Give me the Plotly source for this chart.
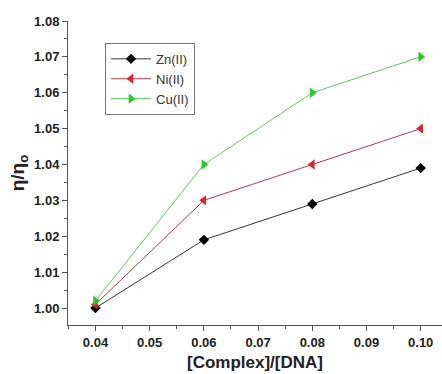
import plotly.graph_objects as go

ratio = [0.04, 0.06, 0.08, 0.10]
zn = [1.000, 1.019, 1.029, 1.039]
ni = [1.001, 1.030, 1.040, 1.050]
cu = [1.002, 1.040, 1.060, 1.070]
x_ticks = [0.04, 0.05, 0.06, 0.07, 0.08, 0.09, 0.10]
x_tick_text = ["0.04", "0.05", "0.06", "0.07", "0.08", "0.09", "0.10"]
y_ticks = [1.00, 1.01, 1.02, 1.03, 1.04, 1.05, 1.06, 1.07, 1.08]
y_tick_text = ["1.00", "1.01", "1.02", "1.03", "1.04", "1.05", "1.06", "1.07", "1.08"]

FONT = "Liberation Sans, Arial, sans-serif"

fig = go.Figure()
fig.add_trace(go.Scatter(x=ratio, y=zn, name="Zn(II)", mode="lines+markers",
                         line=dict(color="#333333", width=1),
                         marker=dict(symbol="diamond", size=8, color="black")))
fig.add_trace(go.Scatter(x=ratio, y=ni, name="Ni(II)", mode="lines+markers",
                         line=dict(color="#9a4450", width=1),
                         marker=dict(symbol="triangle-left", size=9, color="#e3212b")))
fig.add_trace(go.Scatter(x=ratio, y=cu, name="Cu(II)", mode="lines+markers",
                         line=dict(color="#5fc65f", width=1),
                         marker=dict(symbol="triangle-right", size=9, color="#22cc22")))

axis_common = dict(showline=True, linecolor="#555555", linewidth=1, showgrid=False,
                   zeroline=False, ticks="outside", ticklen=5, tickcolor="#555555",
                   tickfont=dict(family=FONT, size=13, color="#222222", weight="bold"))

fig.update_xaxes(range=[0.03493, 0.10393], tickvals=x_ticks, ticktext=x_tick_text,
                 minor=dict(dtick=0.005, tick0=0.04, ticks="outside", ticklen=3, tickcolor="#555555"),
                 title=dict(text="[Complex]/[DNA]", standoff=7,
                            font=dict(family=FONT, size=17, color="#222222", weight="bold")),
                 **axis_common)
fig.update_yaxes(range=[0.99526, 1.08], tickvals=y_ticks, ticktext=y_tick_text,
                 minor=dict(dtick=0.005, tick0=1.0, ticks="outside", ticklen=3, tickcolor="#555555"),
                 title=dict(text="η/η<sub>o</sub>", standoff=4,
                            font=dict(family=FONT, size=19, color="#222222", weight="bold")),
                 **axis_common)

fig.update_layout(
    width=442, height=374,
    margin=dict(l=68, r=0, t=21, b=49),
    plot_bgcolor="white", paper_bgcolor="white",
    showlegend=True,
    legend=dict(x=0.099, y=0.928, xanchor="left", yanchor="top",
                bordercolor="#777777", borderwidth=1, bgcolor="white",
                itemwidth=40, tracegroupgap=0,
                font=dict(family=FONT, size=13, color="#333333")),
)

fig.write_html("out.html")
